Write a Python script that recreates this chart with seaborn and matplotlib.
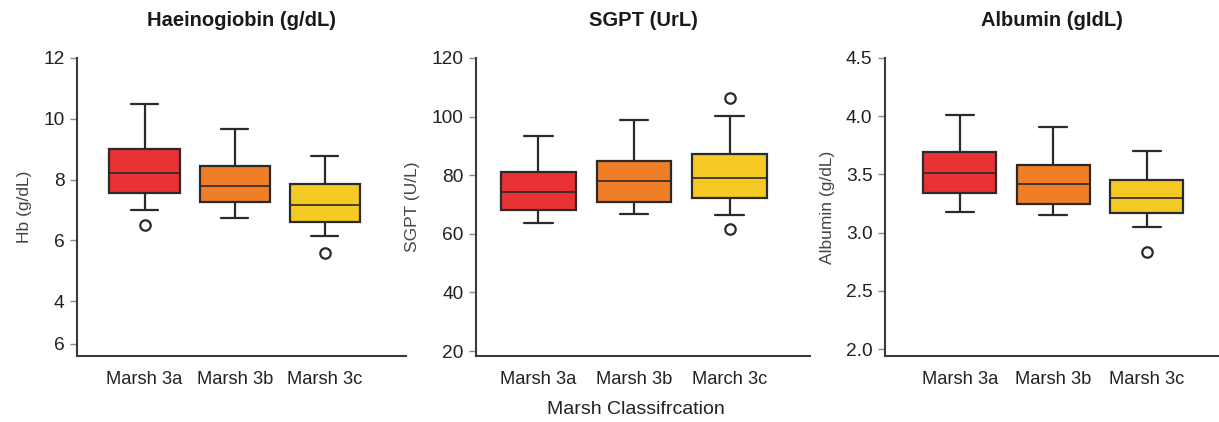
import numpy as np
import pandas as pd
import matplotlib.pyplot as plt
import seaborn as sns

# ==========================================
# data (box summaries)
# ==========================================
GROUPS = ["Marsh 3a", "Marsh 3b", "Marsh 3c"]
COLORS = ["#E93234", "#F07E26", "#F5C924"]

hb_whisker_low = [7.0, 6.75, 6.15]
hb_q1 = [7.55, 7.25, 6.6]
hb_median = [8.22, 7.8, 7.17]
hb_q3 = [9.0, 8.46, 7.85]
hb_whisker_high = [10.5, 9.65, 8.78]
hb_out_low = [6.52, None, 5.58]
hb_out_high = [None, None, None]

sgpt_whisker_low = [63.7, 66.6, 66.5]
sgpt_q1 = [68.0, 70.7, 72.3]
sgpt_median = [74.3, 78.1, 79.2]
sgpt_q3 = [81.1, 84.7, 87.3]
sgpt_whisker_high = [93.5, 98.9, 100.1]
sgpt_out_low = [None, None, 61.7]
sgpt_out_high = [None, None, 106.3]

alb_whisker_low = [3.18, 3.15, 3.05]
alb_q1 = [3.34, 3.25, 3.17]
alb_median = [3.51, 3.42, 3.30]
alb_q3 = [3.69, 3.58, 3.45]
alb_whisker_high = [4.01, 3.91, 3.70]
alb_out_low = [None, None, 2.83]
alb_out_high = [None, None, None]

# nine values per box: with whis=(12.5, 87.5) the whiskers land on index 1 and 7,
# quartiles on 2, 4, 6, so index 0 / 8 become fliers only when they differ
def make_frame(wlo, q1, med, q3, whi, olo, ohi):
    rows = []
    for i, g in enumerate(GROUPS):
        lo0 = olo[i] if olo[i] is not None else wlo[i]
        hi8 = ohi[i] if ohi[i] is not None else whi[i]
        vals = [lo0, wlo[i], q1[i], q1[i], med[i], q3[i], q3[i], whi[i], hi8]
        rows += [(g, v) for v in vals]
    return pd.DataFrame(rows, columns=["group", "value"])

panels = [
    dict(df=make_frame(hb_whisker_low, hb_q1, hb_median, hb_q3, hb_whisker_high, hb_out_low, hb_out_high),
         title="Haeinogiobin (g/dL)", ylabel="Hb (g/dL)",
         yticks=[12, 10, 8, 6, 4, 2.6], yticklabels=["12", "10", "8", "6", "4", "6"],
         ylim=(2.2, 12), xlim=(-0.75, 2.9), xlabels=GROUPS,
         rect=[77 / 1219, 66 / 422, 329 / 1219, 298 / 422]),
    dict(df=make_frame(sgpt_whisker_low, sgpt_q1, sgpt_median, sgpt_q3, sgpt_whisker_high, sgpt_out_low, sgpt_out_high),
         title="SGPT (UrL)", ylabel="SGPT (U/L)",
         yticks=[120, 100, 80, 60, 40, 20], yticklabels=["120", "100", "80", "60", "40", "20"],
         ylim=(18.3, 120), xlim=(-0.65, 2.84), xlabels=["Marsh 3a", "Marsh 3b", "March 3c"],
         rect=[476 / 1219, 66 / 422, 334 / 1219, 298 / 422]),
    dict(df=make_frame(alb_whisker_low, alb_q1, alb_median, alb_q3, alb_whisker_high, alb_out_low, alb_out_high),
         title="Albumin (gIdL)", ylabel="Albumin (g/dL)",
         yticks=[4.5, 4.0, 3.5, 3.0, 2.5, 2.0], yticklabels=["4.5", "4.0", "3.5", "3.0", "2.5", "2.0"],
         ylim=(1.94, 4.5), xlim=(-0.8, 2.77), xlabels=GROUPS,
         rect=[885 / 1219, 66 / 422, 334 / 1219, 298 / 422]),
]

sns.set_style("ticks")
plt.rcParams["font.family"] = ["Liberation Sans", "DejaVu Sans"]

fig = plt.figure(figsize=(12.19, 4.22), dpi=100)
EDGE = "#2a2a2a"

for p in panels:
    ax = fig.add_axes(p["rect"])
    sns.boxplot(
        data=p["df"], x="group", y="value", hue="group", order=GROUPS,
        palette=COLORS, saturation=1, legend=False, width=0.78,
        whis=(12.5, 87.5), linecolor=EDGE, linewidth=1.6, ax=ax,
        capwidths=0.3,
        medianprops=dict(linewidth=1.2),
        flierprops=dict(marker="o", markersize=7.5, markerfacecolor="white",
                        markeredgecolor=EDGE, markeredgewidth=1.6),
    )
    ax.set_xlim(*p["xlim"])
    ax.set_ylim(*p["ylim"])
    ax.set_yticks(p["yticks"])
    ax.set_yticklabels(p["yticklabels"], fontsize=13.8, color="#222222")
    ax.set_xticks(range(3))
    ax.set_xticklabels(p["xlabels"], fontsize=13.2, color="#222222")
    ax.tick_params(axis="x", length=0, pad=11)
    ax.tick_params(axis="y", length=5, width=1, color="#888888", pad=4)
    ax.set_xlabel("")
    ax.set_ylabel(p["ylabel"], fontsize=12.5, color="#444444", labelpad=8)
    ax.set_title(p["title"], fontsize=14.5, fontweight="bold", color="#1a1a1a", pad=23)
    for side in ["top", "right"]:
        ax.spines[side].set_visible(False)
    for side in ["left", "bottom"]:
        ax.spines[side].set_color("#3a3a3a")
        ax.spines[side].set_linewidth(1.5)

fig.text(636 / 1219, 1 - 410 / 422, "Marsh Classifrcation", ha="center", va="center",
         fontsize=14, color="#222222")

fig.savefig("out.png", dpi=100)
